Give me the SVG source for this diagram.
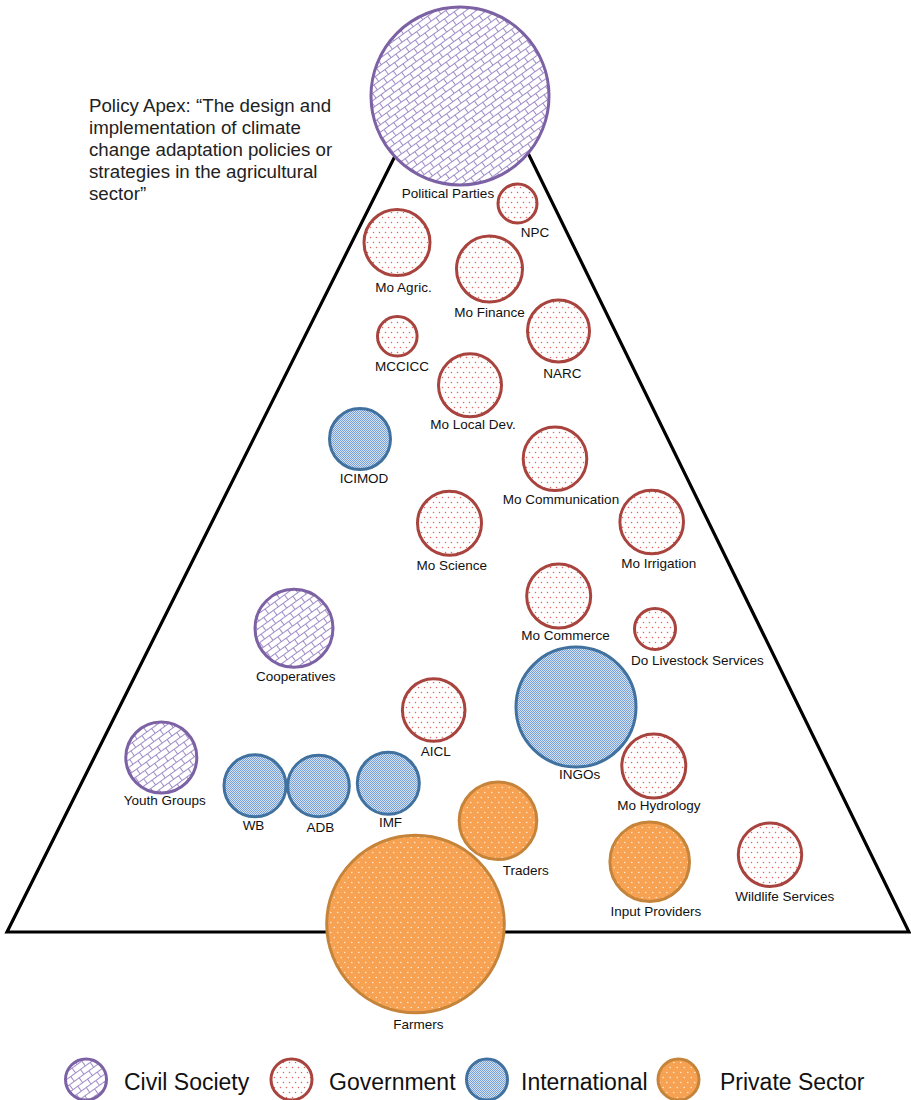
<svg xmlns="http://www.w3.org/2000/svg" width="911" height="1100" viewBox="0 0 911 1100">
<defs>
  <pattern id="pCivil" patternUnits="userSpaceOnUse" width="12" height="12" patternTransform="rotate(-36)">
    <rect width="12" height="12" fill="#fff"/>
    <path d="M0 0.5H12M0 6.5H12M0.5 0.5V6.5M6.5 6.5V12.5" stroke="#A08BC8" stroke-width="1" fill="none"/>
  </pattern>
  <pattern id="pGov" patternUnits="userSpaceOnUse" width="6" height="10">
    <rect width="6" height="10" fill="#fff"/>
    <circle cx="1.5" cy="2.5" r="0.75" fill="#E5625C"/>
    <circle cx="4.5" cy="7.5" r="0.75" fill="#E5625C"/>
  </pattern>
  <pattern id="pIntl" patternUnits="userSpaceOnUse" width="2" height="2">
    <rect width="2" height="2" fill="#D3E1F3"/>
    <rect width="1" height="1" fill="#79A1D7"/>
    <rect x="1" y="1" width="1" height="1" fill="#79A1D7"/>
  </pattern>
  <pattern id="pPriv" patternUnits="userSpaceOnUse" width="7" height="10">
    <rect width="7" height="10" fill="#F6A252"/>
    <circle cx="1.75" cy="2.5" r="0.8" fill="#FFE8CC"/>
    <circle cx="5.25" cy="7.5" r="0.8" fill="#FFE8CC"/>
  </pattern>
</defs>
<style>
  .civil { fill: url(#pCivil); stroke: #7C62A4; stroke-width: 3; }
  .gov { fill: url(#pGov); stroke: #A8433E; stroke-width: 3; }
  .intl { fill: url(#pIntl); stroke: #41729F; stroke-width: 3; }
  .priv { fill: url(#pPriv); stroke: #C6843A; stroke-width: 3; }
  .lbl { font-family: "Liberation Sans", Arial, sans-serif; font-size: 13.5px; fill: #111; text-anchor: middle; }
  .leg { font-family: "Liberation Sans", Arial, sans-serif; font-size: 23px; fill: #111; }
  .title { font-family: "Liberation Sans", Arial, sans-serif; font-size: 18.7px; fill: #222; }
</style>
<rect width="911" height="1100" fill="#fff"/>

<g id="connectors">
  <polygon points="7,932 463,20 909,932" fill="none" stroke="#000" stroke-width="3.2" stroke-linejoin="miter"/>
</g>

<g id="title">
  <text class="title" x="89" y="112">Policy Apex: “The design and</text>
  <text class="title" x="89" y="134">implementation of climate</text>
  <text class="title" x="89" y="156">change adaptation policies or</text>
  <text class="title" x="89" y="178">strategies in the agricultural</text>
  <text class="title" x="89" y="200">sector”</text>
</g>

<g id="political-parties"><circle class="civil" cx="460" cy="96" r="89"/><text class="lbl" x="448" y="198">Political Parties</text></g>
<g id="npc"><circle class="gov" cx="517.5" cy="203.5" r="19.5"/><text class="lbl" x="535" y="237">NPC</text></g>
<g id="mo-agric"><circle class="gov" cx="397" cy="242.5" r="33"/><text class="lbl" x="403.5" y="292">Mo Agric.</text></g>
<g id="mo-finance"><circle class="gov" cx="489.5" cy="269" r="33"/><text class="lbl" x="489.5" y="317">Mo Finance</text></g>
<g id="narc"><circle class="gov" cx="558.5" cy="331" r="31"/><text class="lbl" x="562.5" y="378">NARC</text></g>
<g id="mccicc"><circle class="gov" cx="397.3" cy="336.3" r="19.8"/><text class="lbl" x="402" y="371">MCCICC</text></g>
<g id="mo-local-dev"><circle class="gov" cx="470" cy="385.3" r="31.5"/><text class="lbl" x="473" y="429">Mo Local Dev.</text></g>
<g id="icimod"><circle class="intl" cx="360" cy="439" r="30.5"/><text class="lbl" x="364" y="483">ICIMOD</text></g>
<g id="mo-communication"><circle class="gov" cx="555" cy="458.7" r="31.8"/><text class="lbl" x="561" y="504">Mo Communication</text></g>
<g id="mo-science"><circle class="gov" cx="449.5" cy="523.3" r="32"/><text class="lbl" x="451.7" y="570">Mo Science</text></g>
<g id="mo-irrigation"><circle class="gov" cx="651.7" cy="522" r="31.8"/><text class="lbl" x="658.8" y="568">Mo Irrigation</text></g>
<g id="mo-commerce"><circle class="gov" cx="558.7" cy="596" r="32"/><text class="lbl" x="565.5" y="640">Mo Commerce</text></g>
<g id="do-livestock"><circle class="gov" cx="655" cy="629" r="20.5"/><text class="lbl" x="697.3" y="665">Do Livestock Services</text></g>
<g id="cooperatives"><circle class="civil" cx="294" cy="628.3" r="39"/><text class="lbl" x="295.8" y="681">Cooperatives</text></g>
<g id="ingos"><circle class="intl" cx="576" cy="707" r="60"/><text class="lbl" x="579.7" y="779">INGOs</text></g>
<g id="aicl"><circle class="gov" cx="433.7" cy="710" r="31.3"/><text class="lbl" x="435.7" y="756">AICL</text></g>
<g id="youth-groups"><circle class="civil" cx="161.3" cy="757.5" r="35.5"/><text class="lbl" x="164.7" y="805">Youth Groups</text></g>
<g id="wb"><circle class="intl" cx="255" cy="785.8" r="31"/><text class="lbl" x="253.5" y="830">WB</text></g>
<g id="adb"><circle class="intl" cx="318.5" cy="786" r="30.8"/><text class="lbl" x="320.3" y="832">ADB</text></g>
<g id="imf"><circle class="intl" cx="388.3" cy="783.3" r="31"/><text class="lbl" x="390.5" y="827">IMF</text></g>
<g id="mo-hydrology"><circle class="gov" cx="653.8" cy="766" r="32"/><text class="lbl" x="658.8" y="810">Mo Hydrology</text></g>
<g id="traders"><circle class="priv" cx="498" cy="820.8" r="38.8"/><text class="lbl" x="525.8" y="875">Traders</text></g>
<g id="input-providers"><circle class="priv" cx="649.7" cy="861.7" r="39.8"/><text class="lbl" x="655.8" y="916">Input Providers</text></g>
<g id="wildlife-services"><circle class="gov" cx="770" cy="854.7" r="31.7"/><text class="lbl" x="784.7" y="901">Wildlife Services</text></g>
<g id="farmers"><circle class="priv" cx="415.5" cy="924" r="88.8"/><text class="lbl" x="418.3" y="1029">Farmers</text></g>

<g id="legend">
  <circle class="civil" cx="86" cy="1079.5" r="20.5"/>
  <text class="leg" x="124" y="1090">Civil Society</text>
  <circle class="gov" cx="291.5" cy="1079.5" r="20.5"/>
  <text class="leg" x="329" y="1090">Government</text>
  <circle class="intl" cx="487" cy="1079.5" r="20.5"/>
  <text class="leg" x="521" y="1090">International</text>
  <circle class="priv" cx="678.5" cy="1079.5" r="20.5"/>
  <text class="leg" x="720" y="1090">Private Sector</text>
</g>
</svg>
